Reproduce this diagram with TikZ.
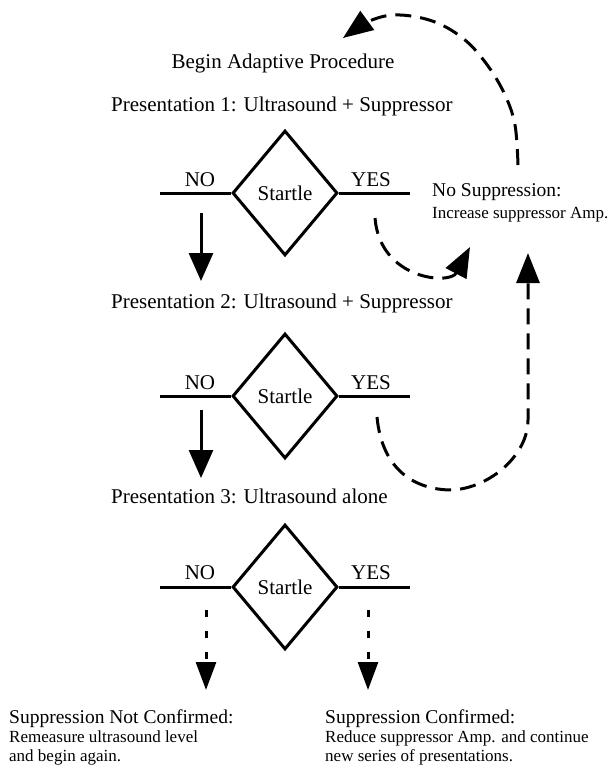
\documentclass[tikz,border=0pt]{standalone}
\usepackage{fontspec}
\setmainfont{Liberation Serif}
\usetikzlibrary{shapes.geometric,arrows.meta}
\begin{document}
\begin{tikzpicture}[x=1pt,y=-1pt,
  ln/.style={line width=3pt},
  dia/.style={draw,diamond,ln,minimum width=105pt,minimum height=125pt,inner sep=0pt,font=\fontsize{21}{24}\selectfont},
  big/.style={font=\fontsize{21}{24}\selectfont,inner sep=0pt},
  mid/.style={font=\fontsize{19.5}{22}\selectfont,inner sep=0pt,anchor=base west},
  small/.style={font=\fontsize{17}{20}\selectfont,inner sep=0pt,anchor=base west},
  solidarr/.style={ln,-{Triangle[length=28pt,width=24pt]}},
  dasharr/.style={ln,dash pattern=on 16pt off 9pt,-{Triangle[length=30pt,width=23pt]}},
  dotarr/.style={ln,dash pattern=on 7pt off 14pt,-{Triangle[length=28pt,width=20pt]}}
]
\useasboundingbox (0,0) rectangle (611,768);

% texts
\node[big,anchor=base] (title) at (283,68) {Begin Adaptive Procedure};
\node[big,anchor=base west] (p1) at (111,111) {Presentation 1: Ultrasound + Suppressor};
\node[big,anchor=base west] (p2) at (111,308) {Presentation 2: Ultrasound + Suppressor};
\node[big,anchor=base west] (p3) at (111,503) {Presentation 3: Ultrasound alone};

% diamonds
\node[dia] (d1) at (285,193) {Startle};
\node[dia] (d2) at (285,396) {Startle};
\node[dia] (d3) at (285,587) {Startle};

% side lines and labels
\coordinate (l1) at (160,193); \coordinate (r1) at (410,193);
\coordinate (l2) at (160,396); \coordinate (r2) at (410,396);
\coordinate (l3) at (160,587); \coordinate (r3) at (410,587);
\draw[ln] (l1) -- (d1.west); \draw[ln] (d1.east) -- (r1);
\draw[ln] (l2) -- (d2.west); \draw[ln] (d2.east) -- (r2);
\draw[ln] (l3) -- (d3.west); \draw[ln] (d3.east) -- (r3);
\node[big,anchor=base] (no1) at (200,186) {NO};
\node[big,anchor=base] (yes1) at (371,186) {YES};
\node[big,anchor=base] (no2) at (200,389) {NO};
\node[big,anchor=base] (yes2) at (371,389) {YES};
\node[big,anchor=base] (no3) at (200,579) {NO};
\node[big,anchor=base] (yes3) at (371,579) {YES};

% no suppression
\node[mid] (ns) at (432,196) {No Suppression:};
\node[small] (inc) at (432,218) {Increase suppressor Amp.};

% bottom texts
\node[mid] (snc) at (9,723) {Suppression Not Confirmed:};
\node[small] (snc1) at (9,742) {Remeasure ultrasound level};
\node[small] (snc2) at (9,761) {and begin again.};
\node[mid] (sc) at (325,723) {Suppression Confirmed:};
\node[small] (sc1) at (325,742) {Reduce suppressor Amp. and continue};
\node[small] (sc2) at (325,761) {new series of presentations.};

% solid NO arrows
\coordinate (a1s) at (201,213); \coordinate (a1e) at (201,281);
\coordinate (a2s) at (201,410); \coordinate (a2e) at (201,478);
\draw[solidarr] (a1s) -- (a1e);
\draw[solidarr] (a2s) -- (a2e);

% dashed bottom arrows
\coordinate (b1s) at (206,610); \coordinate (b1e) at (206,690);
\coordinate (b2s) at (368,610); \coordinate (b2e) at (368,690);
\draw[dotarr] (b1s) -- (b1e);
\draw[dotarr] (b2s) -- (b2e);

% dashed loops
\draw[dasharr] plot[smooth,tension=0.6] coordinates {(518,165) (515,125) (505,95) (488,66) (465,40) (435,22) (400,15) (372,20) (343,38)};

\coordinate (s1) at (375,218); \coordinate (s2) at (470,247);
\draw[dasharr] (s1) .. controls (380,280) and (450,285) .. (s2);

\coordinate (u1) at (377,417); \coordinate (u2) at (452,490); \coordinate (u3) at (528,420); \coordinate (u4) at (528,253);
\draw[dasharr] (u1) .. controls (382,470) and (415,490) .. (u2)
   .. controls (490,488) and (528,455) .. (u3) -- (u4);
\end{tikzpicture}
\end{document}
